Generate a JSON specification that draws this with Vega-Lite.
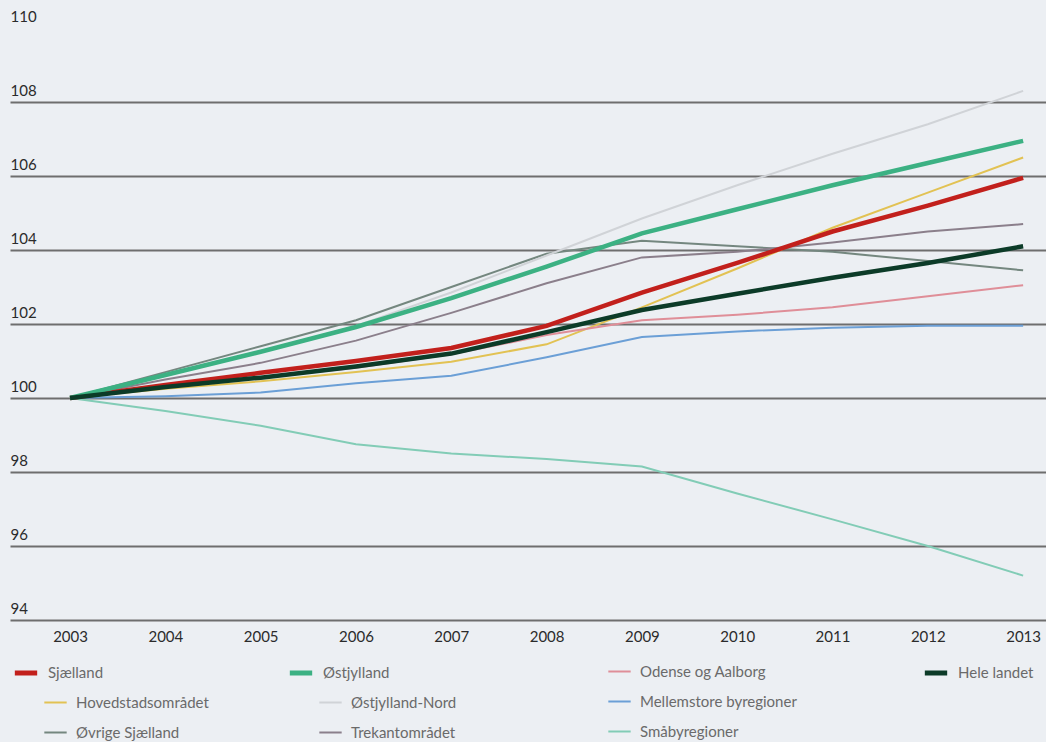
{
  "$schema": "https://vega.github.io/schema/vega-lite/v6.json",
  "width": 1036,
  "height": 592,
  "autosize": {"type": "none"},
  "padding": {"left": 10, "top": 28, "right": 0, "bottom": 122},
  "background": "#eceff3",
  "datasets": {
    "d": [
      {"year": 2003, "region": "Sjælland", "value": 100},
      {"year": 2004, "region": "Sjælland", "value": 100.35},
      {"year": 2005, "region": "Sjælland", "value": 100.68},
      {"year": 2006, "region": "Sjælland", "value": 101.0},
      {"year": 2007, "region": "Sjælland", "value": 101.35},
      {"year": 2008, "region": "Sjælland", "value": 101.95},
      {"year": 2009, "region": "Sjælland", "value": 102.85},
      {"year": 2010, "region": "Sjælland", "value": 103.65},
      {"year": 2011, "region": "Sjælland", "value": 104.5},
      {"year": 2012, "region": "Sjælland", "value": 105.2},
      {"year": 2013, "region": "Sjælland", "value": 105.95},
      {"year": 2003, "region": "Hovedstadsområdet", "value": 100},
      {"year": 2004, "region": "Hovedstadsområdet", "value": 100.25},
      {"year": 2005, "region": "Hovedstadsområdet", "value": 100.45},
      {"year": 2006, "region": "Hovedstadsområdet", "value": 100.7},
      {"year": 2007, "region": "Hovedstadsområdet", "value": 100.98},
      {"year": 2008, "region": "Hovedstadsområdet", "value": 101.45},
      {"year": 2009, "region": "Hovedstadsområdet", "value": 102.45},
      {"year": 2010, "region": "Hovedstadsområdet", "value": 103.5},
      {"year": 2011, "region": "Hovedstadsområdet", "value": 104.6},
      {"year": 2012, "region": "Hovedstadsområdet", "value": 105.55},
      {"year": 2013, "region": "Hovedstadsområdet", "value": 106.5},
      {"year": 2003, "region": "Øvrige Sjælland", "value": 100},
      {"year": 2004, "region": "Øvrige Sjælland", "value": 100.7},
      {"year": 2005, "region": "Øvrige Sjælland", "value": 101.4},
      {"year": 2006, "region": "Øvrige Sjælland", "value": 102.1},
      {"year": 2007, "region": "Øvrige Sjælland", "value": 103.0},
      {"year": 2008, "region": "Øvrige Sjælland", "value": 103.9},
      {"year": 2009, "region": "Øvrige Sjælland", "value": 104.25},
      {"year": 2010, "region": "Øvrige Sjælland", "value": 104.1},
      {"year": 2011, "region": "Øvrige Sjælland", "value": 103.95},
      {"year": 2012, "region": "Øvrige Sjælland", "value": 103.7},
      {"year": 2013, "region": "Øvrige Sjælland", "value": 103.45},
      {"year": 2003, "region": "Østjylland", "value": 100},
      {"year": 2004, "region": "Østjylland", "value": 100.62},
      {"year": 2005, "region": "Østjylland", "value": 101.25},
      {"year": 2006, "region": "Østjylland", "value": 101.92},
      {"year": 2007, "region": "Østjylland", "value": 102.7},
      {"year": 2008, "region": "Østjylland", "value": 103.55},
      {"year": 2009, "region": "Østjylland", "value": 104.45},
      {"year": 2010, "region": "Østjylland", "value": 105.1},
      {"year": 2011, "region": "Østjylland", "value": 105.75},
      {"year": 2012, "region": "Østjylland", "value": 106.35},
      {"year": 2013, "region": "Østjylland", "value": 106.95},
      {"year": 2003, "region": "Østjylland-Nord", "value": 100},
      {"year": 2004, "region": "Østjylland-Nord", "value": 100.6},
      {"year": 2005, "region": "Østjylland-Nord", "value": 101.25},
      {"year": 2006, "region": "Østjylland-Nord", "value": 101.95},
      {"year": 2007, "region": "Østjylland-Nord", "value": 102.85},
      {"year": 2008, "region": "Østjylland-Nord", "value": 103.85},
      {"year": 2009, "region": "Østjylland-Nord", "value": 104.85},
      {"year": 2010, "region": "Østjylland-Nord", "value": 105.75},
      {"year": 2011, "region": "Østjylland-Nord", "value": 106.6},
      {"year": 2012, "region": "Østjylland-Nord", "value": 107.4},
      {"year": 2013, "region": "Østjylland-Nord", "value": 108.3},
      {"year": 2003, "region": "Trekantområdet", "value": 100},
      {"year": 2004, "region": "Trekantområdet", "value": 100.5},
      {"year": 2005, "region": "Trekantområdet", "value": 100.95},
      {"year": 2006, "region": "Trekantområdet", "value": 101.55},
      {"year": 2007, "region": "Trekantområdet", "value": 102.3},
      {"year": 2008, "region": "Trekantområdet", "value": 103.1},
      {"year": 2009, "region": "Trekantområdet", "value": 103.8},
      {"year": 2010, "region": "Trekantområdet", "value": 103.95},
      {"year": 2011, "region": "Trekantområdet", "value": 104.2},
      {"year": 2012, "region": "Trekantområdet", "value": 104.5},
      {"year": 2013, "region": "Trekantområdet", "value": 104.7},
      {"year": 2003, "region": "Odense og Aalborg", "value": 100},
      {"year": 2004, "region": "Odense og Aalborg", "value": 100.28},
      {"year": 2005, "region": "Odense og Aalborg", "value": 100.55},
      {"year": 2006, "region": "Odense og Aalborg", "value": 100.82},
      {"year": 2007, "region": "Odense og Aalborg", "value": 101.18},
      {"year": 2008, "region": "Odense og Aalborg", "value": 101.7},
      {"year": 2009, "region": "Odense og Aalborg", "value": 102.1},
      {"year": 2010, "region": "Odense og Aalborg", "value": 102.25},
      {"year": 2011, "region": "Odense og Aalborg", "value": 102.45},
      {"year": 2012, "region": "Odense og Aalborg", "value": 102.75},
      {"year": 2013, "region": "Odense og Aalborg", "value": 103.05},
      {"year": 2003, "region": "Mellemstore byregioner", "value": 100},
      {"year": 2004, "region": "Mellemstore byregioner", "value": 100.05},
      {"year": 2005, "region": "Mellemstore byregioner", "value": 100.15},
      {"year": 2006, "region": "Mellemstore byregioner", "value": 100.4},
      {"year": 2007, "region": "Mellemstore byregioner", "value": 100.6},
      {"year": 2008, "region": "Mellemstore byregioner", "value": 101.1},
      {"year": 2009, "region": "Mellemstore byregioner", "value": 101.65},
      {"year": 2010, "region": "Mellemstore byregioner", "value": 101.8},
      {"year": 2011, "region": "Mellemstore byregioner", "value": 101.9},
      {"year": 2012, "region": "Mellemstore byregioner", "value": 101.95},
      {"year": 2013, "region": "Mellemstore byregioner", "value": 101.95},
      {"year": 2003, "region": "Småbyregioner", "value": 100},
      {"year": 2004, "region": "Småbyregioner", "value": 99.65},
      {"year": 2005, "region": "Småbyregioner", "value": 99.25},
      {"year": 2006, "region": "Småbyregioner", "value": 98.75},
      {"year": 2007, "region": "Småbyregioner", "value": 98.5},
      {"year": 2008, "region": "Småbyregioner", "value": 98.35},
      {"year": 2009, "region": "Småbyregioner", "value": 98.15},
      {"year": 2010, "region": "Småbyregioner", "value": 97.42},
      {"year": 2011, "region": "Småbyregioner", "value": 96.72},
      {"year": 2012, "region": "Småbyregioner", "value": 96.0},
      {"year": 2013, "region": "Småbyregioner", "value": 95.2},
      {"year": 2003, "region": "Hele landet", "value": 100},
      {"year": 2004, "region": "Hele landet", "value": 100.3},
      {"year": 2005, "region": "Hele landet", "value": 100.55},
      {"year": 2006, "region": "Hele landet", "value": 100.85},
      {"year": 2007, "region": "Hele landet", "value": 101.2},
      {"year": 2008, "region": "Hele landet", "value": 101.78},
      {"year": 2009, "region": "Hele landet", "value": 102.38},
      {"year": 2010, "region": "Hele landet", "value": 102.82},
      {"year": 2011, "region": "Hele landet", "value": 103.25},
      {"year": 2012, "region": "Hele landet", "value": 103.65},
      {"year": 2013, "region": "Hele landet", "value": 104.1}
    ]
  },
  "data": {"name": "d"},
  "encoding": {
    "x": {
      "field": "year", "type": "quantitative",
      "scale": {"domain": [2002.37, 2013.24], "nice": false, "zero": false},
      "axis": {"values": [2003, 2004, 2005, 2006, 2007, 2008, 2009, 2010, 2011, 2012, 2013], "format": "d", "title": null, "grid": false, "domain": false, "ticks": false, "labelPadding": 9}
    },
    "y": {
      "field": "value", "type": "quantitative",
      "scale": {"domain": [94, 110], "nice": false, "zero": false},
      "axis": {
        "values": [94, 96, 98, 100, 102, 104, 106, 108, 110],
        "title": null, "domain": false, "ticks": false, "tickSize": 0,
        "labelAlign": "left", "labelBaseline": "bottom", "labelPadding": 0, "labelOffset": -4,
        "grid": true, "gridWidth": 2,
        "gridColor": {"condition": {"test": "datum.value >= 110", "value": "transparent"}, "value": "#6e6e6e"}
      }
    }
  },
  "layer": [
    {
      "transform": [{"filter": {"field": "region", "oneOf": ["Hovedstadsområdet", "Øvrige Sjælland"]}}],
      "mark": {"type": "line", "strokeWidth": 2},
      "encoding": {"color": {"field": "region", "type": "nominal",
        "scale": {"domain": ["Hovedstadsområdet", "Øvrige Sjælland"], "range": ["#e2c253", "#74877f"]},
        "legend": {"title": null, "orient": "none", "legendX": 33, "legendY": 662, "direction": "vertical", "symbolStrokeWidth": 2}}}
    },
    {
      "transform": [{"filter": {"field": "region", "oneOf": ["Østjylland-Nord", "Trekantområdet"]}}],
      "mark": {"type": "line", "strokeWidth": 2},
      "encoding": {"color": {"field": "region", "type": "nominal",
        "scale": {"domain": ["Østjylland-Nord", "Trekantområdet"], "range": ["#d0d3d7", "#8b7f8b"]},
        "legend": {"title": null, "orient": "none", "legendX": 308, "legendY": 662, "direction": "vertical", "symbolStrokeWidth": 2}}}
    },
    {
      "transform": [{"filter": {"field": "region", "oneOf": ["Odense og Aalborg", "Mellemstore byregioner", "Småbyregioner"]}}],
      "mark": {"type": "line", "strokeWidth": 2},
      "encoding": {"color": {"field": "region", "type": "nominal",
        "scale": {"domain": ["Odense og Aalborg", "Mellemstore byregioner", "Småbyregioner"], "range": ["#df8e98", "#6b9fd6", "#82ccb6"]},
        "legend": {"title": null, "orient": "none", "legendX": 597, "legendY": 631, "direction": "vertical", "symbolStrokeWidth": 2}}}
    },
    {
      "transform": [{"filter": {"field": "region", "oneOf": ["Sjælland"]}}],
      "mark": {"type": "line", "strokeWidth": 4.5},
      "encoding": {"color": {"field": "region", "type": "nominal",
        "scale": {"domain": ["Sjælland"], "range": ["#c2201c"]},
        "legend": {"title": null, "orient": "none", "legendX": 2, "legendY": 631, "direction": "vertical", "symbolStrokeWidth": 5}}}
    },
    {
      "transform": [{"filter": {"field": "region", "oneOf": ["Østjylland"]}}],
      "mark": {"type": "line", "strokeWidth": 4.5},
      "encoding": {"color": {"field": "region", "type": "nominal",
        "scale": {"domain": ["Østjylland"], "range": ["#3cb183"]},
        "legend": {"title": null, "orient": "none", "legendX": 277, "legendY": 631, "direction": "vertical", "symbolStrokeWidth": 5}}}
    },
    {
      "transform": [{"filter": {"field": "region", "oneOf": ["Hele landet"]}}],
      "mark": {"type": "line", "strokeWidth": 4.5},
      "encoding": {"color": {"field": "region", "type": "nominal",
        "scale": {"domain": ["Hele landet"], "range": ["#0c3b28"]},
        "legend": {"title": null, "orient": "none", "legendX": 912, "legendY": 631, "direction": "vertical", "symbolStrokeWidth": 5}}}
    }
  ],
  "resolve": {"scale": {"color": "independent"}},
  "config": {
    "view": {"stroke": null},
    "font": "Lato",
    "axis": {"labelFont": "Lato", "labelFontSize": 15, "labelColor": "#2b2b2b"},
    "legend": {
      "symbolType": "stroke", "symbolSize": 500, "labelFont": "Lato", "labelFontSize": 15,
      "labelColor": "#6a6a6a", "labelOffset": 8, "rowPadding": 9, "padding": 0, "symbolOffset": 0
    }
  }
}
